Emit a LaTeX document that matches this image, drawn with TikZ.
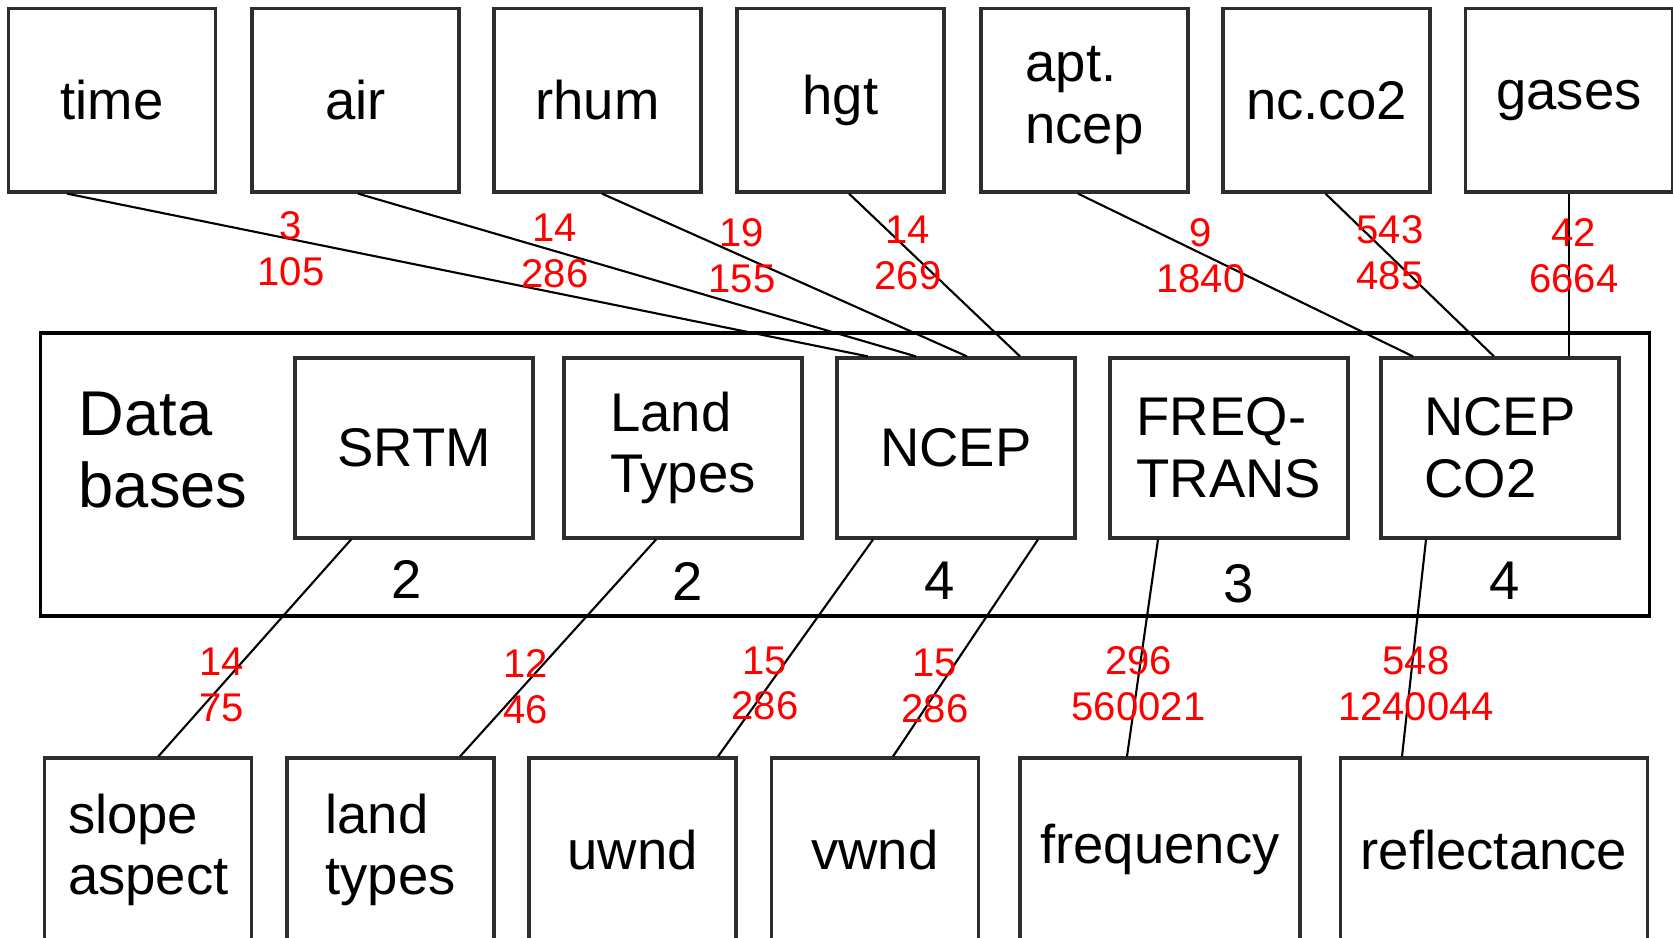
\documentclass[tikz,border=0pt]{standalone}
\usepackage{fontspec}
\setmainfont{Liberation Sans}
\usepackage{tikz}
\usetikzlibrary{positioning}
\definecolor{lblred}{RGB}{255,0,0}
\definecolor{boxgray}{RGB}{45,45,45}
\tikzstyle{field} = [rectangle, draw=boxgray, line width=0.9pt, minimum width=2.07cm, minimum height=1.835cm, inner sep=0pt, align=left, font=\fontsize{15.5}{17.5}\selectfont]
\tikzstyle{dbbox} = [rectangle, draw=boxgray, line width=0.9pt, minimum width=2.38cm, minimum height=1.8cm, inner sep=0pt, align=left, font=\fontsize{15.5}{17.5}\selectfont]
\tikzstyle{conn} = [line width=0.6pt, color=black]
\tikzstyle{numlbl} = [inner sep=0pt, align=center, text=lblred, font=\fontsize{11.4}{13}\selectfont]
\tikzstyle{nvar} = [inner sep=0pt, font=\fontsize{15.5}{17.5}\selectfont]

\begin{document}
\begin{tikzpicture}
\useasboundingbox (0,0) rectangle (16.73,9.38);

% Variables on top
\node[field] (time) at (1.12,8.377) {time};
\node[field] (air) at (3.555,8.377) {air};
\node[field] (rhum) at (5.975,8.377) {rhum};
\node[field] (hgt) at (8.405,8.377) {hgt};
\node[field] (apt) at (10.845,8.377) {apt.\\ncep};
\node[field] (ncco) at (13.265,8.377) {nc.co2};
\node[field] (gases) at (15.69,8.377) {gases};

% Data bases frame
\node[draw, line width=1.1pt, minimum width=16.09cm, minimum height=2.826cm, inner sep=0pt] (dbs) at (8.45,4.637) {};
\node[anchor=west, inner sep=0pt, align=left, font=\fontsize{18}{20.5}\selectfont] (dblabel) at (0.78,4.88) {Data\\bases};

\node[dbbox] (srtm) at (4.14,4.90) {SRTM};
\node[dbbox] (land) at (6.83,4.90) {Land\\Types};
\node[dbbox] (ncep) at (9.56,4.90) {NCEP};
\node[dbbox] (freq) at (12.29,4.90) {FREQ-\\TRANS};
\node[dbbox] (nco) at (15.00,4.90) {NCEP\\CO2};

% Counts under the data bases
\node[nvar, below=0.2cm of srtm, xshift=-0.75mm] (nsrtm) {2};
\node[nvar, below=0.22cm of land, xshift=0.5mm] (nland) {2};
\node[nvar, below=0.22cm of ncep, xshift=-1.6mm] (nncep) {4};
\node[nvar, below=0.24cm of freq, xshift=1mm] (nfreq) {3};
\node[nvar, below=0.22cm of nco, xshift=0.5mm] (nnco) {4};

% Variables at the bottom
\node[field, anchor=north] (slope) at (1.483,1.815) {slope\\aspect};
\node[field, anchor=north] (ltypes) at (3.905,1.815) {land\\types};
\node[field, anchor=north] (uwnd) at (6.325,1.815) {uwnd};
\node[field, anchor=north] (vwnd) at (8.75,1.815) {vwnd};
\node[field, anchor=north, minimum width=2.80cm] (freqv) at (11.60,1.815) {frequency};
\node[field, anchor=north, minimum width=3.065cm] (refl) at (14.94,1.815) {reflectance};

% Links from the top
\draw[conn] ([xshift=-4.5mm]time.south) -- ([xshift=-8.8mm]ncep.north);
\draw[conn] ([xshift=0.25mm]air.south) -- ([xshift=-4mm]ncep.north);
\draw[conn] ([xshift=0.45mm]rhum.south) -- ([xshift=1.1mm]ncep.north);
\draw[conn] ([xshift=0.85mm]hgt.south) -- ([xshift=6.4mm]ncep.north);
\draw[conn] ([xshift=-0.65mm]apt.south) -- ([xshift=-8.7mm]nco.north);
\draw[conn] ([xshift=-0.1mm]ncco.south) -- ([xshift=-0.6mm]nco.north);
\draw[conn] (gases.south) -- (gases.south |- nco.north);

% Links to the bottom
\draw[conn] ([xshift=-6.3mm]srtm.south) -- ([xshift=1mm]slope.north);
\draw[conn] ([xshift=-2.7mm]land.south) -- ([xshift=6.95mm]ltypes.north);
\draw[conn] ([xshift=-8.3mm]ncep.south) -- ([xshift=8.55mm]uwnd.north);
\draw[conn] ([xshift=8.2mm]ncep.south) -- ([xshift=1.8mm]vwnd.north);
\draw[conn] ([xshift=-7.1mm]freq.south) -- ([xshift=-3.3mm]freqv.north);
\draw[conn] ([xshift=-7.4mm]nco.south) -- ([xshift=-9.2mm]refl.north);

% Red numbers on the links
\node[numlbl] (ltime) at (2.91,6.89) {3\\105};
\node[numlbl] (lair) at (5.55,6.87) {14\\286};
\node[numlbl] (lrhum) at (7.42,6.825) {19\\155};
\node[numlbl] (lhgt) at (9.08,6.85) {14\\269};
\node[numlbl] (lapt) at (12.01,6.825) {9\\1840};
\node[numlbl] (lncco) at (13.90,6.85) {543\\485};
\node[numlbl] (lgases) at (15.74,6.825) {42\\6664};

\node[numlbl] (lslope) at (2.22,2.53) {14\\75};
\node[numlbl] (lltypes) at (5.26,2.51) {12\\46};
\node[numlbl] (luwnd) at (7.65,2.545) {15\\286};
\node[numlbl] (lvwnd) at (9.35,2.52) {15\\286};
\node[numlbl] (lfreqv) at (11.385,2.545) {296\\560021};
\node[numlbl] (lrefl) at (14.16,2.545) {548\\1240044};
\end{tikzpicture}
\end{document}
